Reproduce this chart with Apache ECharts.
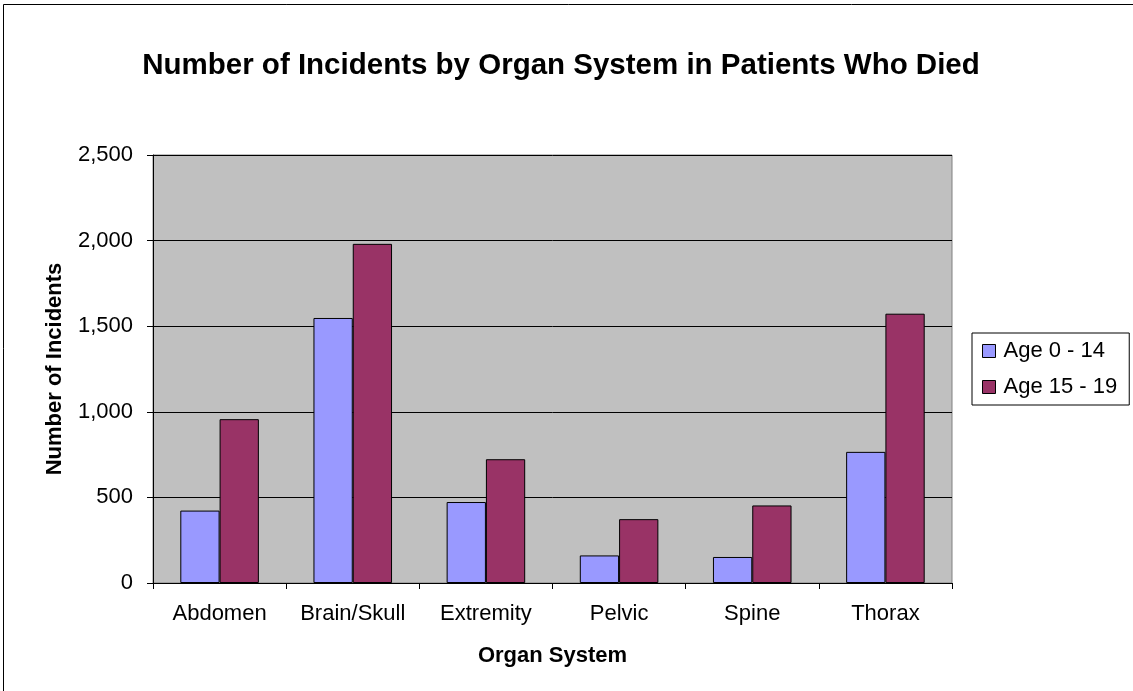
<!DOCTYPE html>
<html>
<head>
<meta charset="utf-8">
<script src="https://cdn.jsdelivr.net/npm/echarts@6/dist/echarts.min.js"></script>
<style>
  html, body { margin: 0; padding: 0; background: #fff; }
  #chart { width: 1133px; height: 691px; }
</style>
</head>
<body>
<div id="chart"></div>
<script>
const categories = ['Abdomen', 'Brain/Skull', 'Extremity', 'Pelvic', 'Spine', 'Thorax']
const age0to14 = [423, 1548, 473, 161, 152, 766]
const age15to19 = [957, 1981, 723, 373, 453, 1573]
const yTicks = [0, 500, 1000, 1500, 2000, 2500]

const font = 'Arial, "Liberation Sans", sans-serif'

const chart = echarts.init(document.getElementById('chart'))

const barStyle = color => ({
  color: color,
  borderColor: '#000',
  borderWidth: 1
})

const option = {
  backgroundColor: '#fff',
  animation: false,

  title: {
    text: 'Number of Incidents by Organ System in Patients Who Died',
    left: 556,
    top: 46,
    textAlign: 'center',
    textStyle: {
      fontFamily: font,
      fontSize: 29.5,
      fontWeight: 'bold',
      color: '#000'
    }
  },

  graphic: [
    {
      type: 'rect',
      shape: { x: 3.5, y: 4.5, width: 1200, height: 800 },
      style: { fill: 'none', stroke: '#000', lineWidth: 1 },
      silent: true
    }
  ],

  legend: {
    orient: 'vertical',
    left: 972,
    top: 333,
    padding: [6, 12, 6, 10],
    itemGap: 12,
    itemWidth: 13,
    itemHeight: 13,
    borderColor: '#000',
    borderWidth: 1,
    icon: 'rect',
    textStyle: {
      fontFamily: font,
      fontSize: 22,
      lineHeight: 24,
      color: '#000',
      padding: [0, 0, 0, 3]
    },
    itemStyle: {
      borderColor: '#000',
      borderWidth: 1
    },
    data: ['Age 0 - 14', 'Age 15 - 19']
  },

  grid: {
    left: 153,
    right: 181,
    top: 155,
    bottom: 108,
    show: true,
    backgroundColor: '#C0C0C0',
    borderColor: '#808080',
    borderWidth: 1
  },

  xAxis: {
    type: 'category',
    data: categories,
    name: 'Organ System',
    nameLocation: 'middle',
    nameGap: 62,
    nameTextStyle: {
      fontFamily: font,
      fontSize: 22,
      fontWeight: 'bold',
      color: '#000'
    },
    axisLine: { lineStyle: { color: '#000', width: 1 } },
    axisTick: { show: true, length: 6, lineStyle: { color: '#000' } },
    axisLabel: {
      interval: 0,
      hideOverlap: false,
      fontFamily: font,
      fontSize: 22,
      color: '#000',
      margin: 20
    }
  },

  yAxis: {
    type: 'value',
    min: yTicks[0],
    max: yTicks[yTicks.length - 1],
    interval: yTicks[1] - yTicks[0],
    name: 'Number of Incidents',
    nameLocation: 'middle',
    nameGap: 87,
    nameTextStyle: {
      fontFamily: font,
      fontSize: 22,
      fontWeight: 'bold',
      color: '#000'
    },
    axisLine: { show: true, lineStyle: { color: '#000', width: 1 } },
    axisTick: { show: true, length: 6, lineStyle: { color: '#000' } },
    axisLabel: {
      fontFamily: font,
      fontSize: 22,
      color: '#000',
      margin: 20,
      formatter: v => v.toLocaleString('en-US')
    },
    splitLine: {
      lineStyle: { color: '#000', width: 1 }
    }
  },

  series: [
    {
      name: 'Age 0 - 14',
      type: 'bar',
      data: age0to14,
      barGap: '0%',
      barCategoryGap: '41%',
      itemStyle: barStyle('#9999FF')
    },
    {
      name: 'Age 15 - 19',
      type: 'bar',
      data: age15to19,
      barGap: '0%',
      barCategoryGap: '41%',
      itemStyle: barStyle('#993366')
    }
  ]
}

chart.setOption(option)
</script>
</body>
</html>
